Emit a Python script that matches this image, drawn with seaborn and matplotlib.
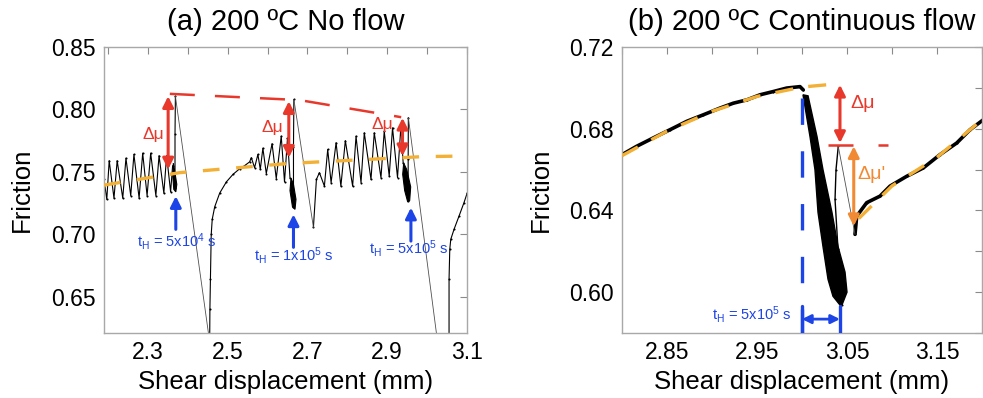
import matplotlib
matplotlib.use('Agg')
import matplotlib.pyplot as plt
import pandas as pd
import seaborn as sns

# ---------------- data : panel (a) 200 C no flow ----------------
a_seg1_x = [2.190, 2.197, 2.203, 2.215, 2.223, 2.237, 2.245, 2.257, 2.265, 2.278, 2.287, 2.298, 2.307, 2.320, 2.328, 2.340, 2.347, 2.357, 2.362]
a_seg1_y = [0.744, 0.728, 0.759, 0.729, 0.759, 0.729, 0.761, 0.731, 0.764, 0.729, 0.765, 0.731, 0.765, 0.731, 0.763, 0.733, 0.763, 0.734, 0.755]
a_blob1_x = [2.3638, 2.3675, 2.3725, 2.3700, 2.3650, 2.3625]
a_blob1_y = [0.757, 0.750, 0.740, 0.734, 0.736, 0.746]
a_reload1_x = [2.368, 2.368, 2.369]
a_reload1_y = [0.737, 0.780, 0.8106]
a_slip1_x = [2.369, 2.4535]
a_slip1_y = [0.8106, 0.617]
a_seg2_x = [2.455, 2.4555, 2.4568, 2.4588, 2.4613, 2.4675, 2.480, 2.4968, 2.5133, 2.530, 2.5425, 2.555, 2.5593, 2.5675, 2.5758, 2.5818, 2.5883, 2.5968, 2.6113, 2.6218, 2.6343, 2.6425, 2.650, 2.6563]
a_seg2_y = [0.617, 0.640, 0.664, 0.700, 0.712, 0.722, 0.733, 0.742, 0.748, 0.7525, 0.755, 0.758, 0.7614, 0.7534, 0.764, 0.752, 0.769, 0.7487, 0.7726, 0.7447, 0.7786, 0.742, 0.777, 0.745]
a_blob2_x = [2.6588, 2.665, 2.6713, 2.6688, 2.6625, 2.6563]
a_blob2_y = [0.745, 0.740, 0.728, 0.720, 0.722, 0.735]
a_reload2_x = [2.665, 2.665, 2.666]
a_reload2_y = [0.722, 0.770, 0.808]
a_slip2_x = [2.666, 2.715]
a_slip2_y = [0.808, 0.7056]
a_seg3_x = [2.715, 2.7225, 2.730, 2.7425, 2.7508, 2.7593, 2.7718, 2.7838, 2.795, 2.8133, 2.8218, 2.8343, 2.8425, 2.8593, 2.8675, 2.8843, 2.8925, 2.905, 2.9133, 2.9258, 2.9343, 2.940]
a_seg3_y = [0.7056, 0.744, 0.7494, 0.7386, 0.768, 0.7414, 0.7734, 0.7386, 0.775, 0.7386, 0.7786, 0.7414, 0.7813, 0.744, 0.7813, 0.7454, 0.7826, 0.7466, 0.7853, 0.7454, 0.7866, 0.757]
a_blob3_x = [2.9413, 2.9488, 2.9588, 2.9563, 2.9513, 2.9438, 2.9388]
a_blob3_y = [0.757, 0.752, 0.738, 0.727, 0.726, 0.735, 0.748]
a_reload3_x = [2.9525, 2.9525, 2.9530]
a_reload3_y = [0.727, 0.760, 0.7935]
a_slip3_x = [2.953, 3.0245]
a_slip3_y = [0.7935, 0.618]
a_seg4_x = [3.055, 3.055, 3.0568, 3.0593, 3.0675, 3.080, 3.0925, 3.1008]
a_seg4_y = [0.617, 0.664, 0.688, 0.696, 0.704, 0.7146, 0.7254, 0.7334]

a_peak_fit_x = [2.355, 2.680, 2.935]
a_peak_fit_y = [0.8125, 0.8075, 0.7938]
a_ss_fit_x = [2.19, 2.38, 2.655, 2.9875, 3.072]
a_ss_fit_y = [0.7394, 0.7494, 0.7568, 0.7622, 0.7626]

a_dmu_x = [2.3508, 2.6533, 2.9383]
a_dmu_top = [0.8106, 0.8066, 0.7933]
a_dmu_bot = [0.7520, 0.7613, 0.7626]
a_dmu_lab_x = [2.313, 2.613, 2.887]
a_dmu_lab_y = [0.780, 0.7853, 0.788]

a_hold_x = [2.370, 2.665, 2.9594]
a_hold_tip = [0.7306, 0.7160, 0.7214]
a_hold_tail = [0.7040, 0.6896, 0.6946]
a_hold_lab_x = [2.3717, 2.665, 2.955]
a_hold_lab_y = [0.6946, 0.6832, 0.6888]
a_hold_labels = ['5x10$^4$', '1x10$^5$', '5x10$^5$']

a_xticks = [2.2, 2.3, 2.4, 2.5, 2.6, 2.7, 2.8, 2.9, 3.0, 3.1]
a_xticklabels = ['', '2.3', '', '2.5', '', '2.7', '', '2.9', '', '3.1']
a_yticks = [0.65, 0.70, 0.75, 0.80, 0.85]
a_yticklabels = ['0.65', '0.70', '0.75', '0.80', '0.85']

# ---------------- data : panel (b) 200 C continuous flow ----------------
b_pre_x = [2.800, 2.8163, 2.8348, 2.8533, 2.8719, 2.8903, 2.9089, 2.9237, 2.9386, 2.9533, 2.9681, 2.9830, 2.9978, 3.0014]
b_pre_y = [0.6673, 0.6714, 0.6755, 0.6795, 0.6836, 0.6868, 0.6901, 0.6925, 0.6941, 0.6966, 0.6982, 0.6999, 0.7006, 0.6990]
b_blob_x = [3.0011, 3.0089, 3.0144, 3.0178, 3.0233, 3.0289, 3.0344, 3.0422,
            3.0444, 3.0500, 3.0478, 3.0400, 3.0333, 3.0233, 3.0167, 3.0067]
b_blob_y = [0.6966, 0.6761, 0.6600, 0.6390, 0.6224, 0.6063, 0.5980, 0.5937,
            0.5937, 0.6000, 0.6098, 0.6224, 0.6390, 0.6600, 0.6761, 0.6961]
b_reload_x = [3.0444, 3.0400, 3.0367, 3.0378, 3.0403]
b_reload_y = [0.5937, 0.6210, 0.6454, 0.6600, 0.6714]
b_slip_x = [3.0403, 3.0589]
b_slip_y = [0.6714, 0.6283]
b_post_x = [3.0589, 3.0608, 3.0719, 3.0867, 3.0978, 3.1163, 3.1348, 3.1533, 3.1719, 3.1867, 3.2015]
b_post_y = [0.6283, 0.6372, 0.6438, 0.6470, 0.6519, 0.6567, 0.6608, 0.6673, 0.6730, 0.6795, 0.6844]

b_fit1_x = [2.80, 2.85, 2.90, 2.95, 3.00, 3.035]
b_fit1_y = [0.6668, 0.6788, 0.6885, 0.6958, 0.7004, 0.7018]
b_fit2_x = [3.063, 3.10, 3.15, 3.20]
b_fit2_y = [0.6360, 0.6520, 0.6660, 0.6844]
b_peak_line_x = [3.0292, 3.0956]
b_peak_line_y = [0.6722, 0.6722]

b_dmu_x = 3.0422
b_dmu_top, b_dmu_bot = 0.7015, 0.6730
b_dmu_lab = (3.0533, 0.6925)
b_dmu2_x = 3.0575
b_dmu2_top, b_dmu2_bot = 0.6714, 0.6323
b_dmu2_lab = (3.062, 0.6576)
b_hold_start, b_hold_end = 3.000, 3.0422
b_hold_dash_top = 0.6950
b_hold_bar_top = 0.5932
b_hold_arrow_y = 0.5868
b_hold_lab = (2.9889, 0.5893)

b_xticks = [2.80, 2.85, 2.90, 2.95, 3.00, 3.05, 3.10, 3.15, 3.20]
b_xticklabels = ['', '2.85', '', '2.95', '', '3.05', '', '3.15', '']
b_yticks = [0.58, 0.60, 0.62, 0.64, 0.66, 0.68, 0.70, 0.72]
b_yticklabels = ['', '0.60', '', '0.64', '', '0.68', '', '0.72']

# ---------------- styling ----------------
sns.set_theme(style='white')
plt.rcParams['font.family'] = ['Liberation Sans', 'DejaVu Sans']
plt.rcParams['mathtext.fontset'] = 'custom'
plt.rcParams['mathtext.rm'] = 'Liberation Sans'
plt.rcParams['mathtext.it'] = 'Liberation Sans'
plt.rcParams['mathtext.default'] = 'regular'
plt.rcParams['lines.scale_dashes'] = False
plt.rcParams['text.color'] = 'black'
plt.rcParams['axes.labelcolor'] = 'black'
plt.rcParams['xtick.labelcolor'] = 'black'
plt.rcParams['ytick.labelcolor'] = 'black'

RED = '#E8382C'
GOLD = '#F2B136'
ORANGE = '#F18A34'
BLUE = '#1C44E6'
SPINE = '#A8A8A8'

fig = plt.figure(figsize=(9.83, 3.98), dpi=100)
axA = fig.add_axes([104 / 983, 1 - 333 / 398, 363 / 983, 286 / 398])
axB = fig.add_axes([622 / 983, 1 - 333 / 398, 360 / 983, 286 / 398])


def trace(ax, xs, ys, lw=0.8, color='black', z=2):
    df = pd.DataFrame({'x': xs, 'y': ys})
    sns.lineplot(data=df, x='x', y='y', ax=ax, sort=False, estimator=None,
                 color=color, lw=lw, zorder=z, marker='o', markersize=1.5,
                 markeredgewidth=0)


def thin(ax, xs, ys):
    df = pd.DataFrame({'x': xs, 'y': ys})
    sns.lineplot(data=df, x='x', y='y', ax=ax, sort=False, estimator=None,
                 color='#505050', lw=0.6, zorder=2)


def dashed(ax, xs, ys, color, lw, dash, z=4):
    ln, = ax.plot(xs, ys, color=color, lw=lw, zorder=z, solid_capstyle='butt',
                  dash_capstyle='butt')
    ln.set_dashes(dash)


def style_axes(ax, xlim, ylim, xt, xtl, yt, ytl, title):
    ax.set_xlim(*xlim)
    ax.set_ylim(*ylim)
    ax.set_xticks(xt)
    ax.set_xticklabels(xtl)
    ax.set_yticks(yt)
    ax.set_yticklabels(ytl)
    ax.tick_params(direction='in', length=5, width=0.8, color='#8a8a8a',
                   top=True, right=True, labelsize=16.5, pad=6,
                   labelcolor='black')
    for s in ax.spines.values():
        s.set_color(SPINE)
        s.set_linewidth(1.0)
    ax.set_xlabel('Shear displacement (mm)', fontsize=18.5, labelpad=4, color='black')
    ax.set_ylabel('Friction', fontsize=18.5, labelpad=12, color='black')
    ax.set_title(title, fontsize=21, pad=12, color='black')
    ax.grid(False)


def darrow(ax, x, y0, y1, color, lw=2.2, ms=16, style='<|-|>'):
    ax.annotate('', xy=(x, y1), xytext=(x, y0),
                arrowprops=dict(arrowstyle=style, color=color, lw=lw,
                                mutation_scale=ms, shrinkA=0, shrinkB=0),
                zorder=6)


# ---- panel (a) ----
ax = axA
for xs, ys in [(a_seg1_x, a_seg1_y), (a_seg2_x, a_seg2_y), (a_seg3_x, a_seg3_y), (a_seg4_x, a_seg4_y),
               (a_reload1_x, a_reload1_y), (a_reload2_x, a_reload2_y), (a_reload3_x, a_reload3_y)]:
    trace(ax, xs, ys)
for xs, ys in [(a_slip1_x, a_slip1_y), (a_slip2_x, a_slip2_y), (a_slip3_x, a_slip3_y)]:
    thin(ax, xs, ys)
for xs, ys in [(a_blob1_x, a_blob1_y), (a_blob2_x, a_blob2_y), (a_blob3_x, a_blob3_y)]:
    ax.fill(xs, ys, color='black', lw=0.8, zorder=3)
dashed(ax, a_ss_fit_x, a_ss_fit_y, GOLD, 2.4, (12, 12))
dashed(ax, a_peak_fit_x, a_peak_fit_y, RED, 1.8, (18, 14.5))
for x, t, b in zip(a_dmu_x, a_dmu_top, a_dmu_bot):
    darrow(ax, x, b, t, RED)
for x, y in zip(a_dmu_lab_x, a_dmu_lab_y):
    ax.text(x, y, 'Δμ', color=RED, fontsize=12.5, ha='center', va='center', zorder=7)
for x, t, b in zip(a_hold_x, a_hold_tip, a_hold_tail):
    darrow(ax, x, b, t, BLUE, lw=2.2, ms=16, style='-|>')
for x, y, lab in zip(a_hold_lab_x, a_hold_lab_y, a_hold_labels):
    ax.text(x, y, '$t_H$ = ' + lab + ' s', color=BLUE, fontsize=10.5,
            ha='center', va='center', zorder=7)
style_axes(ax, (2.19, 3.1), (0.621, 0.85), a_xticks, a_xticklabels,
           a_yticks, a_yticklabels, '(a) 200 ºC No flow')

# ---- panel (b) ----
ax = axB
trace(ax, b_pre_x, b_pre_y, lw=2.6)
trace(ax, b_post_x, b_post_y, lw=2.6)
trace(ax, b_reload_x, b_reload_y, lw=1.0)
thin(ax, b_slip_x, b_slip_y)
ax.fill(b_blob_x, b_blob_y, color='black', lw=1.0, zorder=3)
dashed(ax, b_fit1_x, b_fit1_y, GOLD, 2.4, (13, 11))
dashed(ax, b_fit2_x, b_fit2_y, GOLD, 2.4, (13, 11))
dashed(ax, b_peak_line_x, b_peak_line_y, RED, 1.8, (18, 18))
dashed(ax, [b_hold_start, b_hold_start], [b_hold_dash_top, 0.58], BLUE, 2.4, (19, 19), z=5)
ax.plot([b_hold_end, b_hold_end], [b_hold_bar_top, 0.58], color=BLUE, lw=2.4, zorder=5)
ax.plot([b_hold_start, b_hold_start], [b_hold_bar_top, 0.58], color=BLUE, lw=2.4, zorder=5)
ax.annotate('', xy=(b_hold_end, b_hold_arrow_y), xytext=(b_hold_start, b_hold_arrow_y),
            arrowprops=dict(arrowstyle='<|-|>', color=BLUE, lw=2.0,
                            mutation_scale=13, shrinkA=0, shrinkB=0), zorder=6)
ax.text(*b_hold_lab, '$t_H$ = 5x10$^5$ s', color=BLUE, fontsize=10.5,
        ha='right', va='center', zorder=7)
darrow(ax, b_dmu_x, b_dmu_bot, b_dmu_top, RED)
ax.text(*b_dmu_lab, 'Δμ', color=RED, fontsize=14, ha='left', va='center', zorder=7)
darrow(ax, b_dmu2_x, b_dmu2_bot, b_dmu2_top, ORANGE)
ax.text(*b_dmu2_lab, "Δμ'", color=ORANGE, fontsize=14, ha='left', va='center', zorder=7)
style_axes(ax, (2.8, 3.2), (0.58, 0.72), b_xticks, b_xticklabels,
           b_yticks, b_yticklabels, '(b) 200 ºC Continuous flow')

fig.savefig('out.png', dpi=100)
